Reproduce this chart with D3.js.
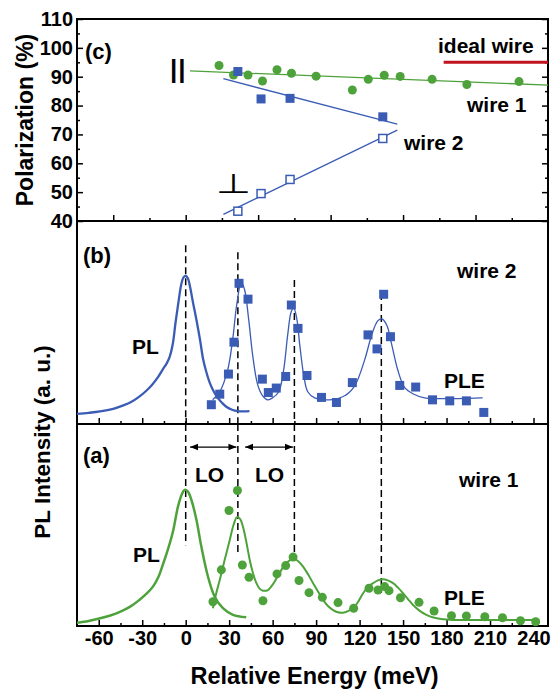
<!DOCTYPE html>
<html>
<head>
<meta charset="utf-8">
<script src="https://cdn.jsdelivr.net/npm/d3@7"></script>
<style>
  body { margin: 0; background: #fff; }
  svg text { font-family: "Liberation Sans", Arial, sans-serif; font-weight: bold; fill: #000; }
</style>
</head>
<body>
<svg id="chart" width="553" height="692"></svg>
<script>
// ---- data ----
// (c) polarization vs relative energy
const wire1Energy = [23, 33, 43, 53, 63, 73, 90, 115, 126, 137, 148, 170, 194, 230];
const wire1Pol = [93.9, 90.6, 90.6, 88.5, 92.4, 91.2, 90.2, 85.4, 89.1, 90.5, 90.1, 89.1, 87.3, 88.3];
const wire1Fit = [[3, 92.0], [250, 87.1]];
const wire2Energy = [36, 52, 72, 136];
const wire2Parallel = [91.8, 82.3, 82.5, 76.1];
const wire2Perp = [43.4, 49.5, 54.4, 68.6];
const wire2ParallelFit = [[26, 89.3], [146, 73.6]];
const wire2PerpFit = [[26, 42.3], [146, 71.5]];
const idealWire = [[178, 95], [250, 95]];
const polTicks = [40, 50, 60, 70, 80, 90, 100, 110];

// (b) wire 2 spectra
const plWire2 = [[-75, 0.050], [-67, 0.055], [-59, 0.062], [-50, 0.075], [-43, 0.092], [-38, 0.107],
  [-32, 0.135], [-27, 0.165], [-23, 0.195], [-19, 0.232], [-16, 0.267], [-13, 0.300], [-11, 0.332],
  [-9, 0.390], [-7, 0.500], [-5, 0.600], [-3, 0.690], [-1.5, 0.722], [0, 0.730], [1.5, 0.718],
  [3, 0.676], [5, 0.600], [7.5, 0.510], [10, 0.410], [12, 0.320], [14, 0.262], [16.5, 0.205],
  [19, 0.165], [22, 0.130], [25, 0.105], [28, 0.085], [32, 0.070], [36, 0.063], [40, 0.062], [44, 0.063]];
const pleWire2Energy = [17.7, 23.5, 29.5, 33.3, 36.8, 43.0, 52.9, 57.0, 62.5, 69.0, 72.9, 77.5, 83.7,
  93.7, 104.0, 115.0, 125.8, 132.0, 136.6, 141.3, 147.7, 158.7, 170.3, 182.2, 193.7, 205.7];
const pleWire2 = [0.095, 0.147, 0.246, 0.403, 0.693, 0.615, 0.221, 0.155, 0.177, 0.234, 0.586, 0.471, 0.239,
  0.131, 0.106, 0.204, 0.439, 0.370, 0.639, 0.430, 0.190, 0.182, 0.119, 0.114, 0.114, 0.057];
const fitWire2 = [[18.6, 0.119], [23.5, 0.159], [29, 0.267], [32.4, 0.415], [35.2, 0.587], [38.4, 0.699],
  [40.7, 0.660], [43.5, 0.513], [46.2, 0.340], [49.7, 0.193], [53.1, 0.139], [56.6, 0.119], [60, 0.129],
  [64.2, 0.159], [67.6, 0.267], [70.4, 0.440], [72.8, 0.553], [74.5, 0.572], [76.6, 0.522], [78.7, 0.390],
  [81.4, 0.242], [84.2, 0.159], [89, 0.129], [99.4, 0.119], [109.7, 0.139], [116.6, 0.188], [123.5, 0.316],
  [128.4, 0.440], [132.5, 0.508], [135.3, 0.518], [138.7, 0.488], [142.2, 0.390], [146.3, 0.267],
  [151.1, 0.179], [156.7, 0.149], [164.9, 0.129], [204.9, 0.129]];

// (a) wire 1 spectra
const plWire1 = [[-75, 0.016], [-67, 0.025], [-59, 0.038], [-52, 0.052], [-45, 0.071], [-38, 0.097],
  [-32, 0.129], [-27, 0.160], [-22.6, 0.195], [-19, 0.240], [-15.7, 0.305], [-12.2, 0.380], [-8.7, 0.470],
  [-5.3, 0.592], [-2.5, 0.655], [-0.7, 0.674], [1.5, 0.665], [3.9, 0.625], [7.4, 0.526], [10.8, 0.393],
  [15.4, 0.244], [20, 0.145], [25.7, 0.088], [32.6, 0.055], [41.8, 0.043]];
const pleWire1Energy = [18.8, 24.6, 29.9, 35.7, 39.1, 43.7, 53.3, 63, 69, 74.1, 78.2, 85.1, 94.3, 105.1,
  115.9, 126.5, 132.7, 137.3, 140.3, 148.2, 161, 171.4, 183.4, 193.7, 206.4, 218.6, 231, 241.5];
const pleWire1 = [0.120, 0.278, 0.572, 0.671, 0.302, 0.241, 0.125, 0.258, 0.299, 0.341, 0.225, 0.165,
  0.142, 0.116, 0.088, 0.187, 0.178, 0.195, 0.175, 0.140, 0.117, 0.074, 0.051, 0.050, 0.046, 0.041, 0.026, 0.021];
const fitWire1 = [[18.8, 0.088], [21, 0.160], [23.5, 0.228], [27, 0.330], [30.4, 0.426], [33, 0.500],
  [35.4, 0.539], [37.5, 0.530], [39.5, 0.492], [42, 0.410], [44.2, 0.327], [46.5, 0.260], [48.8, 0.212],
  [51, 0.185], [53.3, 0.175], [56.8, 0.178], [60, 0.205], [62.6, 0.235], [65, 0.265], [68, 0.300],
  [71.8, 0.325], [75.2, 0.331], [78, 0.318], [81, 0.294], [84.5, 0.255], [87.9, 0.212], [91.5, 0.168],
  [94.8, 0.129], [98, 0.100], [101.7, 0.079], [105, 0.068], [108.6, 0.066], [112, 0.074], [115.5, 0.088],
  [119, 0.120], [122.4, 0.162], [126, 0.195], [129.3, 0.212], [132.7, 0.226], [136.2, 0.232],
  [139.5, 0.226], [143.1, 0.212], [146.5, 0.190], [150, 0.162], [153.5, 0.132], [156.9, 0.104],
  [161.5, 0.075], [166.1, 0.055], [171, 0.042], [177.6, 0.033], [185, 0.030], [196, 0.030], [244, 0.030]];

// LO phonon replicas (dashed markers) and arrows
const dashWire2 = [[0, 0.88], [36, 0.846], [75, 0.709], [135, 0.645]];
const dashWire1 = [[0, 0.40], [36, 0.362], [75, 0.337], [135, 0.164]];
const loArrows = [[3, 35], [41, 74]];
const energyTicks = d3.range(-60, 241, 30);

// ---- layout ----
const left = 77, right = 548;
const topC = 19, botC = 221, botB = 424, botA = 626;
const green = '#4ea23b', blue = '#3a5cb4', red = '#c1121f';

const svg = d3.select('#chart');
const x = d3.scaleLinear().domain([-75, 250]).range([left, right]);
const yC = d3.scaleLinear().domain([40, 110]).range([botC, topC]);
const yB = d3.scaleLinear().domain([0, 1]).range([botB, botC]);
const yA = d3.scaleLinear().domain([0, 1]).range([botA, botB]);

function clean(g) {
  g.select('.domain').remove();
  g.selectAll('.tick line').attr('stroke', '#000').attr('stroke-width', 1.5);
  g.selectAll('text').attr('font-size', 20).attr('font-family', null);
}
function noText(g) { clean(g); g.selectAll('text').remove(); }

// ---- axes ----
// (c)
svg.append('g').attr('transform', `translate(${left},0)`)
  .call(d3.axisLeft(yC).tickValues(polTicks).tickSize(-6).tickPadding(4).tickFormat(d => String(d)))
  .call(clean);
svg.append('g').attr('transform', `translate(${left},0)`)
  .call(d3.axisLeft(yC).tickValues(d3.range(45, 110, 10)).tickSize(-3)).call(noText);
svg.append('g').attr('transform', `translate(${right},0)`)
  .call(d3.axisRight(yC).tickValues(polTicks).tickSize(-6)).call(noText);
svg.append('g').attr('transform', `translate(${right},0)`)
  .call(d3.axisRight(yC).tickValues(d3.range(45, 110, 10)).tickSize(-3)).call(noText);
svg.append('g').attr('transform', `translate(0,${botC})`)
  .call(d3.axisBottom(x).tickValues(d3.range(-50, 250, 50)).tickSize(-6)).call(noText);
svg.append('g').attr('transform', `translate(0,${botC})`)
  .call(d3.axisBottom(x).tickValues(d3.range(-25, 250, 50)).tickSize(-3)).call(noText);
// (b)
svg.append('g').attr('transform', `translate(0,${botB})`)
  .call(d3.axisBottom(x).tickValues(energyTicks).tickSize(-6)).call(noText);
svg.append('g').attr('transform', `translate(0,${botB})`)
  .call(d3.axisBottom(x).tickValues(d3.range(-45, 250, 30)).tickSize(-3)).call(noText);
// (a)
svg.append('g').attr('transform', `translate(0,${botA})`)
  .call(d3.axisBottom(x).tickValues(energyTicks).tickSize(-6).tickPadding(5).tickFormat(d => String(d)))
  .call(clean);
svg.append('g').attr('transform', `translate(0,${botA})`)
  .call(d3.axisBottom(x).tickValues(d3.range(-45, 250, 30)).tickSize(-3)).call(noText);

// frames
[[topC, botC], [botC, botB], [botB, botA]].forEach(([t, b]) => {
  svg.append('rect').attr('x', left).attr('y', t).attr('width', right - left).attr('height', b - t)
    .attr('fill', 'none').attr('stroke', '#000').attr('stroke-width', 2);
});

// ---- panel (c) ----
const lineC = d3.line().x(d => x(d[0])).y(d => yC(d[1]));
svg.append('path').attr('d', lineC(wire1Fit)).attr('stroke', green).attr('stroke-width', 1.3).attr('fill', 'none');
svg.append('path').attr('d', lineC(wire2ParallelFit)).attr('stroke', blue).attr('stroke-width', 1.3).attr('fill', 'none');
svg.append('path').attr('d', lineC(wire2PerpFit)).attr('stroke', blue).attr('stroke-width', 1.3).attr('fill', 'none');
svg.append('path').attr('d', lineC(idealWire)).attr('stroke', red).attr('stroke-width', 3).attr('fill', 'none');

svg.append('g').selectAll('circle').data(wire1Energy).join('circle')
  .attr('cx', d => x(d)).attr('cy', (d, i) => yC(wire1Pol[i])).attr('r', 4.5).attr('fill', green);
svg.append('g').selectAll('rect').data(wire2Energy).join('rect')
  .attr('x', d => x(d) - 4.5).attr('y', (d, i) => yC(wire2Parallel[i]) - 4.5)
  .attr('width', 9).attr('height', 9).attr('fill', blue);
svg.append('g').selectAll('rect').data(wire2Energy).join('rect')
  .attr('x', d => x(d) - 4).attr('y', (d, i) => yC(wire2Perp[i]) - 4)
  .attr('width', 8).attr('height', 8).attr('fill', '#fff').attr('stroke', blue).attr('stroke-width', 1.5);

svg.append('text').attr('x', 85).attr('y', 59).attr('font-size', 22).text('(c)');
svg.append('text').attr('x', 438).attr('y', 53).attr('font-size', 21).text('ideal wire');
svg.append('text').attr('x', 467).attr('y', 112).attr('font-size', 21).text('wire 1');
svg.append('text').attr('x', 404).attr('y', 150).attr('font-size', 21).text('wire 2');
svg.append('text').attr('x', 170).attr('y', 78).attr('font-size', 26).attr('letter-spacing', 1).text('||');
svg.append('text').attr('transform', 'translate(216,193) scale(1.5,1)')
  .style('font-family', '"DejaVu Sans", sans-serif').style('font-weight', 'normal')
  .attr('font-size', 27).text('⊥');

// ---- panel (b) ----
const lineB = d3.line().x(d => x(d[0])).y(d => yB(d[1])).curve(d3.curveCatmullRom);
svg.append('g').selectAll('line').data(dashWire2).join('line')
  .attr('x1', d => x(d[0])).attr('x2', d => x(d[0])).attr('y1', d => yB(d[1])).attr('y2', botB)
  .attr('stroke', '#000').attr('stroke-width', 1.5).attr('stroke-dasharray', '7,4');
svg.append('path').attr('d', lineB(plWire2)).attr('stroke', blue).attr('stroke-width', 2.3).attr('fill', 'none');
svg.append('path').attr('d', lineB(fitWire2)).attr('stroke', blue).attr('stroke-width', 1.3).attr('fill', 'none');
svg.append('g').selectAll('rect').data(pleWire2Energy).join('rect')
  .attr('x', d => x(d) - 4.5).attr('y', (d, i) => yB(pleWire2[i]) - 4.5)
  .attr('width', 9).attr('height', 9).attr('fill', blue);

svg.append('text').attr('x', 83).attr('y', 263).attr('font-size', 22).text('(b)');
svg.append('text').attr('x', 132).attr('y', 354).attr('font-size', 21).text('PL');
svg.append('text').attr('x', 457).attr('y', 278).attr('font-size', 21).text('wire 2');
svg.append('text').attr('x', 444).attr('y', 388).attr('font-size', 21).text('PLE');

// ---- panel (a) ----
const lineA = d3.line().x(d => x(d[0])).y(d => yA(d[1])).curve(d3.curveCatmullRom);
svg.append('g').selectAll('line').data(dashWire1).join('line')
  .attr('x1', d => x(d[0])).attr('x2', d => x(d[0])).attr('y1', botB).attr('y2', d => yA(d[1]))
  .attr('stroke', '#000').attr('stroke-width', 1.5).attr('stroke-dasharray', '7,4');
svg.append('path').attr('d', lineA(plWire1)).attr('stroke', green).attr('stroke-width', 2.5).attr('fill', 'none');
svg.append('path').attr('d', lineA(fitWire1)).attr('stroke', green).attr('stroke-width', 2).attr('fill', 'none');
svg.append('g').selectAll('circle').data(pleWire1Energy).join('circle')
  .attr('cx', d => x(d)).attr('cy', (d, i) => yA(pleWire1[i])).attr('r', 4.5).attr('fill', green);

const defs = svg.append('defs');
defs.append('marker').attr('id', 'head').attr('viewBox', '0 0 10 10').attr('refX', 10).attr('refY', 5)
  .attr('markerWidth', 8).attr('markerHeight', 8).attr('markerUnits', 'userSpaceOnUse').attr('orient', 'auto-start-reverse')
  .append('path').attr('d', 'M0,1 L10,5 L0,9 Z').attr('fill', '#000');
svg.append('g').selectAll('line').data(loArrows).join('line')
  .attr('x1', d => x(d[0])).attr('x2', d => x(d[1])).attr('y1', yA(0.886)).attr('y2', yA(0.886))
  .attr('stroke', '#000').attr('stroke-width', 1.2)
  .attr('marker-start', 'url(#head)').attr('marker-end', 'url(#head)');

svg.append('text').attr('x', 83).attr('y', 463).attr('font-size', 22).text('(a)');
svg.append('text').attr('x', 195).attr('y', 482).attr('font-size', 21).text('LO');
svg.append('text').attr('x', 255).attr('y', 482).attr('font-size', 21).text('LO');
svg.append('text').attr('x', 459).attr('y', 487).attr('font-size', 21).text('wire 1');
svg.append('text').attr('x', 133).attr('y', 562).attr('font-size', 21).text('PL');
svg.append('text').attr('x', 444).attr('y', 605).attr('font-size', 21).text('PLE');

// ---- axis titles ----
svg.append('text').attr('x', (left + right) / 2 + 2).attr('y', 684).attr('text-anchor', 'middle')
  .attr('font-size', 23.5).text('Relative Energy (meV)');
svg.append('text').attr('transform', 'translate(33,120) rotate(-90)').attr('text-anchor', 'middle')
  .attr('font-size', 23).text('Polarization (%)');
svg.append('text').attr('transform', 'translate(50,442) rotate(-90)').attr('text-anchor', 'middle')
  .attr('font-size', 22.5).text('PL Intensity (a. u.)');
</script>
</body>
</html>
